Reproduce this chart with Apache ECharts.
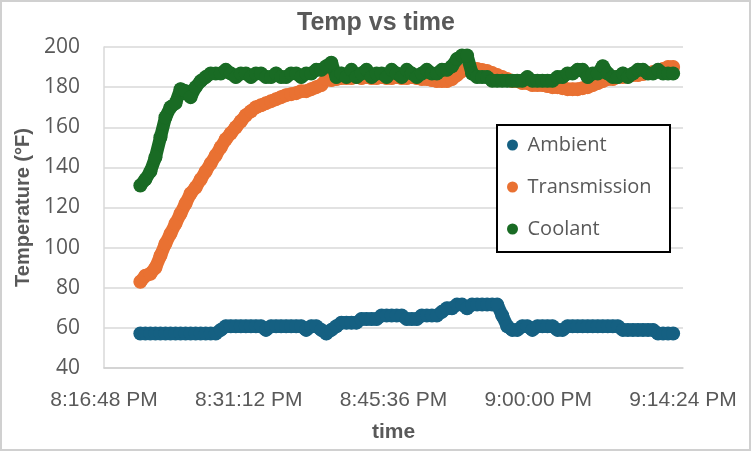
<!DOCTYPE html>
<html>
<head>
<meta charset="utf-8">
<title>Temp vs time</title>
<script src="https://cdn.jsdelivr.net/npm/echarts@6/dist/echarts.min.js"></script>
<style>
html, body { margin: 0; padding: 0; background: #fff; }
#chart { width: 752px; height: 452px; }
</style>
</head>
<body>
<div id="chart"></div>
<script>
// axis: seconds after 8:16:48 PM, one tick every 14:24
const axisStart = 20 * 3600 + 16 * 60 + 48;
const axisTicks = ['8:16:48 PM', '8:31:12 PM', '8:45:36 PM', '9:00:00 PM', '9:14:24 PM'];
const tickStep = 864;

// logger samples, first one at 8:20:25 PM, then every 30 s
const firstSample = 217;
const sampleStep = 30;

const seriesNames = ['Ambient', 'Transmission', 'Coolant'];
const seriesColors = ['#156082', '#E97132', '#196B24'];

const ambient = [
  57.2, 57.2, 57.2, 57.2, 57.2, 57.2, 57.2, 57.2, 57.2, 57.2,
  57.2, 57.2, 57.2, 57.2, 57.2, 57.2, 59, 60.8, 60.8, 60.8,
  60.8, 60.8, 60.8, 60.8, 60.8, 59, 60.8, 60.8, 60.8, 60.8,
  60.8, 60.8, 60.8, 59, 60.8, 60.8, 59, 57.2, 59, 60.8,
  62.6, 62.6, 62.6, 62.6, 64.4, 64.4, 64.4, 64.4, 66.2, 66.2,
  66.2, 66.2, 66.2, 64.4, 64.4, 64.4, 66.2, 66.2, 66.2, 66.2,
  68, 69.8, 69.8, 71.6, 71.6, 69.8, 71.6, 71.6, 71.6, 71.6,
  71.6, 71.6, 66.2, 60.8, 59, 59, 60.8, 60.8, 59, 60.8,
  60.8, 60.8, 60.8, 59, 59, 60.8, 60.8, 60.8, 60.8, 60.8,
  60.8, 60.8, 60.8, 60.8, 60.8, 60.8, 59, 59, 59, 59,
  59, 59, 59, 57.2, 57.2, 57.2, 57.2
];

const transmission = [
  83, 86, 87, 90, 96, 102, 107, 112, 117, 122,
  127, 130, 134, 138, 142, 146, 150, 154, 157, 160,
  163, 166, 168, 170, 171, 172, 173, 174, 175, 176,
  176.5, 177, 178, 178, 179, 180, 181, 184, 183.5, 184,
  184.5, 184.5, 184.5, 185, 184.5, 185, 184.5, 184.5, 185, 184.5,
  184.5, 185, 184.5, 184.5, 185, 184.5, 184, 184, 183.5, 183,
  183, 183, 184, 186, 188, 189, 189, 189, 188.5, 188,
  187, 186, 185, 184, 183, 183, 182, 182, 181, 181,
  181, 180.5, 180, 180, 179.5, 179, 179, 179, 179.5, 180,
  181, 182, 183, 184, 184, 185, 185, 185.5, 186, 186,
  186.5, 187, 187.5, 188, 189, 190, 190
];

const coolant = [
  131, 134, 138, 145, 155, 165, 170, 172, 179, 178,
  175, 180, 183, 185, 186.8, 186.8, 186.8, 188.6, 186.8, 185,
  186.8, 186.8, 185, 186.8, 186.8, 185, 185, 186.8, 185, 185,
  186.8, 186.8, 185, 186.8, 186.8, 188.6, 188.6, 190.4, 192.2, 185,
  186.8, 185, 188.6, 185, 186.8, 188.6, 185, 186.8, 186.8, 185,
  188.6, 186.8, 185, 188.6, 186.8, 185, 186.8, 188.6, 186.8, 186.8,
  188.6, 188.6, 190.4, 194, 195.8, 195.8, 186.8, 185, 185, 185,
  183.2, 183.2, 183.2, 183.2, 183.2, 183.2, 183.2, 185, 183.2, 183.2,
  183.2, 183.2, 183.2, 185, 185, 186.8, 186.8, 188.6, 188.6, 185,
  186.8, 186.8, 190.4, 186.8, 185, 185, 186.8, 185, 186.8, 188.6,
  188.6, 186.8, 186.8, 188.6, 186.8, 186.8, 186.8
];

function pairs(values) {
  return values.map(function (v, i) { return [firstSample + i * sampleStep, v]; });
}

var chart = echarts.init(document.getElementById('chart'));

var grey = '#595959';
var sans = '"Liberation Sans", sans-serif';

var series = [ambient, transmission, coolant].map(function (vals, k) {
  return {
    name: seriesNames[k],
    type: 'line',
    data: pairs(vals),
    symbol: 'circle',
    symbolSize: 14,
    showAllSymbol: true,
    itemStyle: { color: seriesColors[k] },
    lineStyle: { color: seriesColors[k], width: 13, cap: 'round', join: 'round' },
    emphasis: { disabled: true },
    z: 2 + k
  };
});

chart.setOption({
  animation: false,
  backgroundColor: '#fff',
  title: {
    text: 'Temp vs time',
    left: 'center',
    top: 11,
    padding: 0,
    textStyle: { color: grey, fontSize: 25, fontWeight: 'bold', fontFamily: sans }
  },
  grid: { left: 104, right: 69, top: 47, bottom: 84 },
  legend: {
    orient: 'vertical',
    left: 507,
    top: 134,
    padding: 0,
    itemGap: 20,
    itemWidth: 20,
    itemHeight: 11,
    icon: 'circle',
    data: seriesNames,
    textStyle: { color: grey, fontSize: 20, lineHeight: 22, fontFamily: '"Open Sans", sans-serif' },
    z: 20
  },
  graphic: [
    {
      type: 'rect',
      shape: { x: 1, y: 1, width: 749, height: 449 },
      style: { fill: 'none', stroke: '#d0d0d0', lineWidth: 2 },
      z: 1
    },
    {
      type: 'rect',
      shape: { x: 497, y: 125, width: 173, height: 127 },
      style: { fill: '#fff', stroke: '#000', lineWidth: 2 },
      z: 10
    }
  ],
  xAxis: {
    type: 'value',
    min: 0,
    max: tickStep * (axisTicks.length - 1),
    interval: tickStep,
    name: 'time',
    nameLocation: 'middle',
    nameGap: 54,
    nameTextStyle: { color: grey, fontSize: 21, fontWeight: 'bold', fontFamily: sans },
    axisLine: { lineStyle: { color: '#d0d0d0', width: 1.5 } },
    axisTick: { show: false },
    splitLine: { show: false },
    axisLabel: {
      margin: 22,
      color: grey,
      fontSize: 21,
      fontFamily: sans,
      formatter: function (v) { return axisTicks[Math.round(v / tickStep)]; }
    }
  },
  yAxis: {
    type: 'value',
    min: 40,
    max: 200,
    interval: 20,
    name: 'Temperature (°F)',
    nameLocation: 'middle',
    nameGap: 64,
    nameTextStyle: { color: grey, fontSize: 20, fontWeight: 'bold', fontFamily: sans },
    axisLine: { show: true, lineStyle: { color: '#d9d9d9', width: 1.5 } },
    axisTick: { show: false },
    splitLine: { lineStyle: { color: '#d9d9d9', width: 1.5 } },
    axisLabel: { margin: 24, color: grey, fontSize: 21, fontFamily: '"Open Sans", sans-serif' }
  },
  series: series
});
</script>
</body>
</html>
